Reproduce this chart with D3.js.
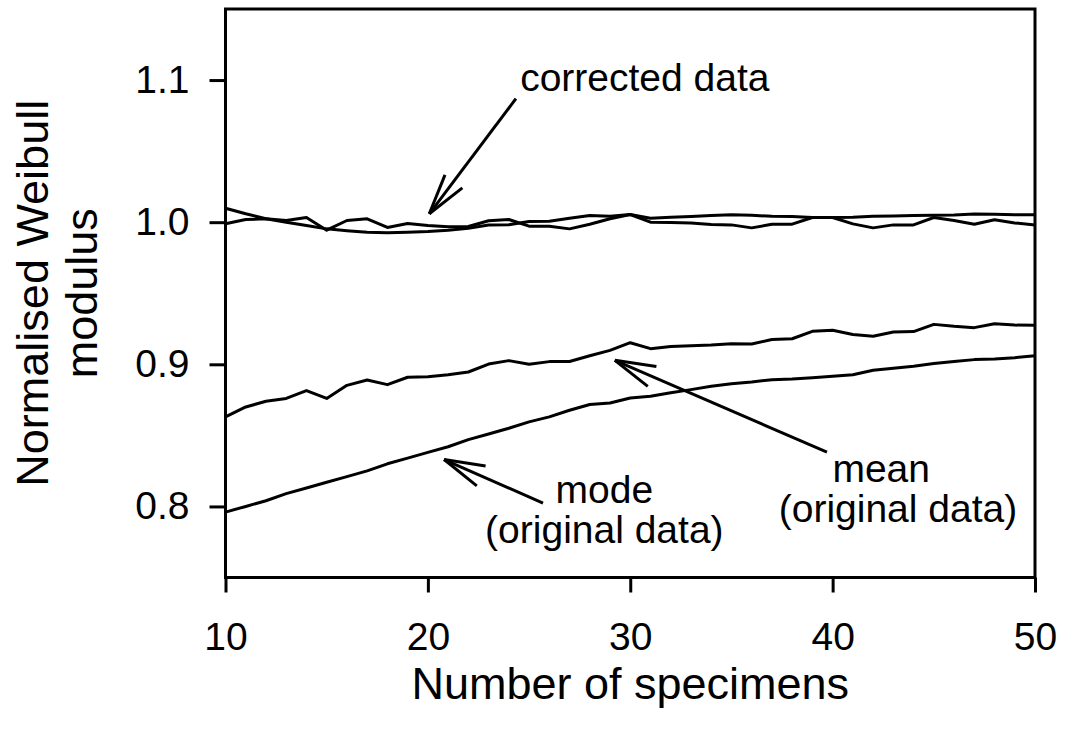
<!DOCTYPE html>
<html>
<head>
<meta charset="utf-8">
<script src="https://cdn.jsdelivr.net/npm/d3@7"></script>
<style>
  html, body { margin: 0; padding: 0; background: #fff; }
  svg text { font-family: Arial, "Liberation Sans", sans-serif; fill: #000; }
</style>
</head>
<body>
<svg id="chart" width="1065" height="733"></svg>
<script>
// number of specimens, 10..50
const specimens = d3.range(10, 51);

const correctedMode = [
  1.0098, 1.0059, 1.0024, 1.0, 0.9977, 0.9953, 0.994, 0.993, 0.9925, 0.993,
  0.9935, 0.9944, 0.9958, 0.998, 0.9982, 1.0005, 1.0007, 1.0028, 1.0047, 1.0042,
  1.0054, 1.0028, 1.0035, 1.004, 1.0047, 1.0052, 1.0048, 1.0042, 1.004, 1.0033,
  1.0033, 1.0035, 1.0042, 1.0044, 1.0047, 1.0048, 1.005, 1.0058, 1.0055, 1.0052,
  1.0052,
];
const correctedMean = [
  0.9989, 1.0019, 1.0024, 1.0012, 1.0033, 0.9944, 1.0012, 1.0024, 0.9963, 0.9991,
  0.9977, 0.9968, 0.997, 1.001, 1.0019, 0.9972, 0.9972, 0.9953, 0.9986, 1.0024,
  1.0054, 1.0, 0.9998, 0.9995, 0.9983, 0.9981, 0.996, 0.9985, 0.9986, 1.0033,
  1.0033, 0.9988, 0.996, 0.9981, 0.9981, 1.0033, 1.0012, 0.9986, 1.0017, 0.9995,
  0.9981,
];
const originalMean = [
  0.863, 0.870, 0.874, 0.876, 0.8815, 0.876, 0.8852, 0.889, 0.8857, 0.8909,
  0.8913, 0.8927, 0.8946, 0.9002, 0.9026, 0.900, 0.9019, 0.902, 0.906, 0.9098,
  0.9152, 0.911, 0.9126, 0.9131, 0.9136, 0.9145, 0.9143, 0.9174, 0.918, 0.9232,
  0.924, 0.921, 0.9197, 0.9227, 0.923, 0.9281, 0.9267, 0.9258, 0.9286, 0.9276,
  0.9274,
];
const originalMode = [
  0.796, 0.800, 0.804, 0.809, 0.813, 0.817, 0.821, 0.825, 0.830, 0.834,
  0.838, 0.842, 0.847, 0.851, 0.855, 0.8595, 0.863, 0.8677, 0.8717, 0.8728,
  0.8763, 0.8775, 0.880, 0.8822, 0.8845, 0.8864, 0.8876, 0.8892, 0.8897, 0.8906,
  0.8916, 0.8927, 0.8958, 0.8972, 0.8986, 0.9005, 0.9019, 0.9033, 0.9037, 0.9047,
  0.9061,
];

const xTicks = [10, 20, 30, 40, 50];
const yTicks = [0.8, 0.9, 1.0, 1.1];

// arrows in data units: [tailN, tailV, tipN, tipV]
const arrows = [
  [24.35, 1.0869, 20.07, 1.0059],
  [39.72, 0.8382, 29.24, 0.9028],
  [25.69, 0.8023, 20.8, 0.833],
];
// label lines in data units: centre n, baseline value
const labels = [
  { n: 30.72, v: 1.0923, text: "corrected data" },
  { n: 42.4, v: 0.8172, text: "mean" },
  { n: 43.23, v: 0.7890, text: "(original data)" },
  { n: 28.72, v: 0.8024, text: "mode" },
  { n: 28.72, v: 0.7743, text: "(original data)" },
];

const margin = { top: 9, right: 30, bottom: 155.5, left: 225.5 };
const width = 1065;
const height = 733;
const chartWidth = width - margin.left - margin.right;
const chartHeight = height - margin.top - margin.bottom;

const svg = d3.select("#chart");
const chart = svg
  .append("g")
  .attr("transform", `translate(${margin.left},${margin.top})`);

const x = d3.scaleLinear().domain([10, 50]).range([0, chartWidth]);
const y = d3.scaleLinear().domain([0.75, 1.15]).range([chartHeight, 0]);

// frame
chart
  .append("rect")
  .attr("width", chartWidth)
  .attr("height", chartHeight)
  .attr("fill", "none")
  .attr("stroke", "#000")
  .attr("stroke-width", 3);

const xAxisG = chart
  .append("g")
  .attr("transform", `translate(0,${chartHeight})`)
  .call(d3.axisBottom(x).tickValues(xTicks).tickSize(15).tickPadding(30).tickFormat(d3.format("d")));
const yAxisG = chart
  .append("g")
  .call(d3.axisLeft(y).tickValues(yTicks).tickSize(16).tickPadding(20).tickFormat(d3.format(".1f")));

[xAxisG, yAxisG].forEach((g) => {
  g.select(".domain").remove();
  g.selectAll(".tick line").attr("stroke", "#000").attr("stroke-width", 3);
  g.selectAll(".tick text")
    .attr("font-size", 39)
    .attr("font-family", "Arial, 'Liberation Sans', sans-serif")
    .attr("fill", "#000");
});

// lines
const line = d3
  .line()
  .x((d, i) => x(specimens[i]))
  .y((d) => y(d));

[originalMode, originalMean, correctedMean, correctedMode].forEach((series) => {
  chart
    .append("path")
    .datum(series)
    .attr("fill", "none")
    .attr("stroke", "#000")
    .attr("stroke-width", 3)
    .attr("stroke-linejoin", "round")
    .attr("d", line);
});

// arrows with open heads
const headLen = 42;
const headAngle = (15 * Math.PI) / 180;
arrows.forEach(([n0, v0, n1, v1]) => {
  const x0 = x(n0), y0 = y(v0), x1 = x(n1), y1 = y(v1);
  const a = Math.atan2(y0 - y1, x0 - x1);
  const g = chart.append("g").attr("stroke", "#000").attr("stroke-width", 3).attr("fill", "none");
  g.append("line").attr("x1", x0).attr("y1", y0).attr("x2", x1).attr("y2", y1);
  [-headAngle, headAngle].forEach((da) => {
    g.append("line")
      .attr("x1", x1)
      .attr("y1", y1)
      .attr("x2", x1 + headLen * Math.cos(a + da))
      .attr("y2", y1 + headLen * Math.sin(a + da));
  });
});

chart
  .selectAll("text.note")
  .data(labels)
  .join("text")
  .attr("class", "note")
  .attr("x", (d) => x(d.n))
  .attr("y", (d) => y(d.v))
  .attr("text-anchor", "middle")
  .attr("font-size", 39)
  .text((d) => d.text);

// axis titles
svg
  .append("text")
  .attr("x", margin.left + chartWidth / 2)
  .attr("y", 699)
  .attr("text-anchor", "middle")
  .attr("font-size", 45)
  .text("Number of specimens");

const yTitle = svg
  .append("text")
  .attr("transform", `translate(48,${margin.top + chartHeight / 2}) rotate(-90)`)
  .attr("text-anchor", "middle")
  .attr("font-size", 45);
yTitle.append("tspan").attr("x", 0).attr("dy", 0).text("Normalised Weibull");
yTitle.append("tspan").attr("x", 0).attr("dy", 49).text("modulus");
</script>
</body>
</html>
